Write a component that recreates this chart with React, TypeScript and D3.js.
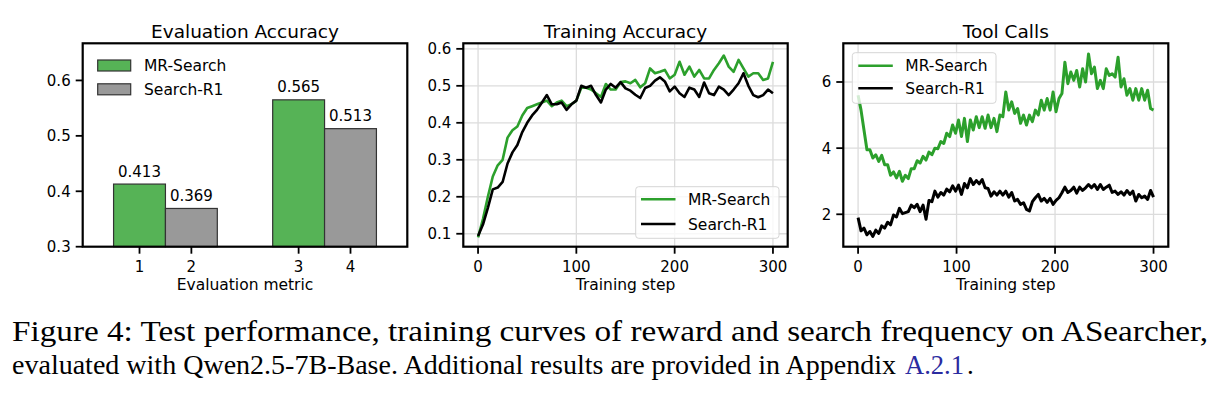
import * as d3 from "d3";

// ---- data ----
const evalMetricLabels = ["1", "2", "3", "4"];
const evalGroups = [0, 1];
const mrSearchEval = [0.413, 0.565];
const searchR1Eval = [0.369, 0.513];

const accSteps = d3.range(0, 301, 5);
const mrSearchAcc = [
  0.09, 0.14, 0.2, 0.255, 0.285, 0.3, 0.36, 0.38, 0.39, 0.42, 0.44, 0.445,
  0.45, 0.455, 0.46, 0.445, 0.455, 0.46, 0.445, 0.45, 0.46, 0.495, 0.495,
  0.49, 0.48, 0.47, 0.505, 0.49, 0.49, 0.51, 0.512, 0.507, 0.516, 0.496,
  0.507, 0.547, 0.534, 0.538, 0.543, 0.52, 0.53, 0.565, 0.53, 0.552, 0.525,
  0.543, 0.52, 0.52, 0.543, 0.561, 0.582, 0.552, 0.538, 0.57, 0.547, 0.525,
  0.534, 0.534, 0.516, 0.52, 0.565,
];
const searchR1Acc = [
  0.094, 0.125, 0.17, 0.22, 0.225, 0.24, 0.29, 0.32, 0.34, 0.375, 0.4, 0.42,
  0.435, 0.455, 0.475, 0.45, 0.45, 0.455, 0.435, 0.45, 0.46, 0.5, 0.495, 0.5,
  0.475, 0.455, 0.49, 0.505, 0.495, 0.51, 0.493, 0.487, 0.476, 0.467, 0.494,
  0.5, 0.514, 0.523, 0.512, 0.485, 0.498, 0.48, 0.47, 0.495, 0.49, 0.47,
  0.509, 0.48, 0.475, 0.498, 0.49, 0.475, 0.49, 0.507, 0.534, 0.5, 0.475,
  0.469, 0.475, 0.49, 0.48,
];

const toolSteps = d3.range(0, 301, 3);
const mrSearchTool = [
  5.6, 5.15, 4.55, 3.95, 3.95, 3.7, 3.8, 3.6, 3.78, 3.5, 3.5, 3.18, 3.28, 3.1,
  3.3, 3.0, 3.18, 3.08, 3.38, 3.38, 3.62, 3.55, 3.75, 3.64, 3.88, 3.8, 4.0,
  3.98, 4.2, 4.14, 4.45, 4.35, 4.7, 4.45, 4.85, 4.35, 4.9, 4.2, 4.85, 4.55,
  4.95, 4.62, 4.95, 4.6, 5.0, 4.62, 4.9, 4.5, 5.0, 4.95, 5.7, 5.15, 5.4, 5.05,
  5.2, 4.75, 5.0, 4.7, 5.0, 4.8, 5.15, 5.0, 5.45, 5.15, 5.5, 5.15, 5.7, 5.1,
  5.5, 5.65, 6.6, 5.95, 6.3, 6.05, 6.35, 5.85, 6.4, 6.0, 6.85, 6.25, 6.45,
  5.8, 6.05, 5.8, 6.4, 6.2, 6.25, 6.15, 6.75, 5.85, 6.1, 5.6, 5.8, 5.45, 5.8,
  5.45, 5.8, 5.45, 5.75, 5.2, 5.15,
];
const searchR1Tool = [
  1.9, 1.5, 1.58, 1.38, 1.48, 1.33, 1.52, 1.42, 1.65, 1.58, 1.76, 1.68, 1.98,
  1.92, 2.18, 2.02, 2.05, 2.08, 2.28, 2.2, 2.3, 2.08, 2.28, 1.85, 2.42, 2.38,
  2.7, 2.52, 2.66, 2.58, 2.76, 2.68, 2.86, 2.7, 2.88, 2.6, 2.93, 2.8, 3.08,
  2.9, 3.02, 2.92, 3.05, 2.8, 2.78, 2.55, 2.68, 2.58, 2.7, 2.58, 2.7, 2.52,
  2.66, 2.4, 2.45, 2.3, 2.35, 2.15, 2.1, 2.38, 2.5, 2.6, 2.4, 2.48, 2.36,
  2.48, 2.3, 2.42, 2.5, 2.65, 2.82, 2.66, 2.72, 2.82, 2.64, 2.82, 2.72, 2.8,
  2.9, 2.8, 2.9, 2.75, 2.9, 2.75, 2.82, 2.88, 2.66, 2.7, 2.6, 2.68, 2.58,
  2.72, 2.6, 2.7, 2.4, 2.6, 2.5, 2.55, 2.45, 2.72, 2.52,
];

const accTicks = [0.1, 0.2, 0.3, 0.4, 0.5, 0.6];
const toolTicks = [2, 4, 6];
const evalTicks = [0.3, 0.4, 0.5, 0.6];
const stepTicks = [0, 100, 200, 300];
const seriesNames = ["MR-Search", "Search-R1"];

// ---- styling ----
const FONT = "DejaVu Sans, sans-serif";
const SERIF = "Liberation Serif, serif";
const GREEN = "#2ca02c";
const TOP = 43.3;
const BOTTOM = 246.7;
const TICK = 7;

type Scale = d3.ScaleLinear<number, number>;

const Frame = ({ x, y }: { x: Scale; y: Scale }) => {
  const [x0, x1] = x.range();
  const [y0, y1] = y.range();
  return (
    <rect
      x={x0}
      y={y1}
      width={x1 - x0}
      height={y0 - y1}
      fill="none"
      stroke="#000"
      strokeWidth={2.2}
    />
  );
};

const YAxis = ({ y, x0, ticks, fmt }: { y: Scale; x0: number; ticks: number[]; fmt: (v: number) => string }) => (
  <g>
    {ticks.map((t) => (
      <g key={t}>
        <line x1={x0 - TICK} x2={x0} y1={y(t)} y2={y(t)} stroke="#000" strokeWidth={1.8} />
        <text x={x0 - TICK - 5} y={y(t)} dy="0.36em" textAnchor="end" fontSize={15} fontFamily={FONT}>
          {fmt(t)}
        </text>
      </g>
    ))}
  </g>
);

const XAxis = ({ x, pos, labels, title }: { x: Scale; pos: number[]; labels: string[]; title: string }) => {
  const [a, b] = x.range();
  return (
    <g>
      {pos.map((p, i) => (
        <g key={i}>
          <line x1={x(p)} x2={x(p)} y1={BOTTOM} y2={BOTTOM + TICK} stroke="#000" strokeWidth={1.8} />
          <text x={x(p)} y={271.5} textAnchor="middle" fontSize={15} fontFamily={FONT}>
            {labels[i]}
          </text>
        </g>
      ))}
      <text x={(a + b) / 2} y={290} textAnchor="middle" fontSize={15.5} fontFamily={FONT}>
        {title}
      </text>
    </g>
  );
};

const Title = ({ x, text }: { x: Scale; text: string }) => {
  const [a, b] = x.range();
  return (
    <text x={(a + b) / 2} y={38} textAnchor="middle" fontSize={18.5} fontFamily={FONT}>
      {text}
    </text>
  );
};

const Grid = ({ x, y, xt, yt }: { x: Scale; y: Scale; xt: number[]; yt: number[] }) => {
  const [x0, x1] = x.range();
  return (
    <g stroke="#dcdcdc" strokeWidth={1.3}>
      {xt.map((t) => (
        <line key={"x" + t} x1={x(t)} x2={x(t)} y1={TOP} y2={BOTTOM} />
      ))}
      {yt.map((t) => (
        <line key={"y" + t} x1={x0} x2={x1} y1={y(t)} y2={y(t)} />
      ))}
    </g>
  );
};

const LineLegend = ({ bx, by, bw, bh, lx, ly }: { bx: number; by: number; bw: number; bh: number; lx: number; ly: number[] }) => (
  <g>
    <rect x={bx} y={by} width={bw} height={bh} rx={3} fill="#fff" fillOpacity={0.8} stroke="#d6d6d6" strokeWidth={1} />
    {seriesNames.map((n, i) => (
      <g key={n}>
        <line x1={lx} x2={lx + 34.5} y1={ly[i]} y2={ly[i]} stroke={i === 0 ? GREEN : "#000"} strokeWidth={2.6} />
        <text x={lx + 47} y={ly[i]} dy="0.36em" fontSize={15.5} fontFamily={FONT}>
          {n}
        </text>
      </g>
    ))}
  </g>
);

export default function App() {
  // panel 1: evaluation accuracy bars
  const xEval = d3.scaleLinear().domain([-0.52, 1.52]).range([82.7, 407.3]);
  const yEval = d3.scaleLinear().domain([0.3, 0.667]).range([BOTTOM, TOP]);
  const barW = 0.326;
  const evalTickPos = evalGroups.flatMap((g) => [g - barW / 2, g + barW / 2]);

  // panel 2: training accuracy
  const xAcc = d3.scaleLinear().domain([-15, 315]).range([463.3, 787.7]);
  const yAcc = d3.scaleLinear().domain([0.065, 0.615]).range([BOTTOM, TOP]);
  const accLine = (vals: number[]) =>
    d3.line<number>().x((_, i) => xAcc(accSteps[i])).y((v) => yAcc(v))(vals) || "";

  // panel 3: tool calls
  const xTool = d3.scaleLinear().domain([-15, 315]).range([843.3, 1168.3]);
  const yTool = d3.scaleLinear().domain([1.02, 7.17]).range([BOTTOM, TOP]);
  const toolLine = (vals: number[]) =>
    d3.line<number>().x((_, i) => xTool(toolSteps[i])).y((v) => yTool(v))(vals) || "";

  const bars = [
    { vals: mrSearchEval, off: -barW, fill: "#56b356" },
    { vals: searchR1Eval, off: 0, fill: "#999999" },
  ];

  return (
    <svg
      width={1222}
      height={394}
      style={{ position: "absolute", left: 0, top: 0, background: "#fff" }}
    >
      <rect width={1222} height={394} fill="#fff" />

      {/* Evaluation Accuracy */}
      <Title x={xEval} text="Evaluation Accuracy" />
      {bars.map((s, si) =>
        s.vals.map((v, i) => (
          <g key={`${si}-${i}`}>
            <rect
              x={xEval(evalGroups[i] + s.off)}
              y={yEval(v)}
              width={xEval(barW) - xEval(0)}
              height={yEval(0.3) - yEval(v)}
              fill={s.fill}
              stroke="#333"
              strokeWidth={1.2}
            />
            <text
              x={xEval(evalGroups[i] + s.off + barW / 2)}
              y={yEval(v) - 7.5}
              textAnchor="middle"
              fontSize={15}
              fontFamily={FONT}
            >
              {v.toFixed(3)}
            </text>
          </g>
        ))
      )}
      <g>
        {seriesNames.map((n, i) => (
          <g key={n}>
            <rect
              x={97.7}
              y={60 + i * 23.8}
              width={33}
              height={11}
              fill={bars[i].fill}
              stroke="#333"
              strokeWidth={1.2}
            />
            <text x={144} y={65.5 + i * 23.8} dy="0.36em" fontSize={15.5} fontFamily={FONT}>
              {n}
            </text>
          </g>
        ))}
      </g>
      <YAxis y={yEval} x0={82.7} ticks={evalTicks} fmt={(v) => v.toFixed(1)} />
      <XAxis x={xEval} pos={evalTickPos} labels={evalMetricLabels} title="Evaluation metric" />
      <Frame x={xEval} y={yEval} />

      {/* Training Accuracy */}
      <Title x={xAcc} text="Training Accuracy" />
      <Grid x={xAcc} y={yAcc} xt={stepTicks} yt={accTicks} />
      <path d={accLine(mrSearchAcc)} fill="none" stroke={GREEN} strokeWidth={2.6} strokeLinejoin="round" />
      <path d={accLine(searchR1Acc)} fill="none" stroke="#000" strokeWidth={2.6} strokeLinejoin="round" />
      <LineLegend bx={635.7} by={186.7} bw={143.3} bh={51.6} lx={641} ly={[199.3, 224]} />
      <YAxis y={yAcc} x0={463.3} ticks={accTicks} fmt={(v) => v.toFixed(1)} />
      <XAxis x={xAcc} pos={stepTicks} labels={stepTicks.map(String)} title="Training step" />
      <Frame x={xAcc} y={yAcc} />

      {/* Tool Calls */}
      <Title x={xTool} text="Tool Calls" />
      <Grid x={xTool} y={yTool} xt={stepTicks} yt={toolTicks} />
      <path d={toolLine(mrSearchTool)} fill="none" stroke={GREEN} strokeWidth={3} strokeLinejoin="round" />
      <path d={toolLine(searchR1Tool)} fill="none" stroke="#000" strokeWidth={3} strokeLinejoin="round" />
      <LineLegend bx={852.3} by={52.7} bw={143.7} bh={50.6} lx={858.3} ly={[65.7, 88.3]} />
      <YAxis y={yTool} x0={843.3} ticks={toolTicks} fmt={(v) => String(v)} />
      <XAxis x={xTool} pos={stepTicks} labels={stepTicks.map(String)} title="Training step" />
      <Frame x={xTool} y={yTool} />

      {/* caption */}
      <text x={12} y={341} fontSize={30} fontFamily={SERIF} textLength={1196} lengthAdjust="spacingAndGlyphs">
        Figure 4: Test performance, training curves of reward and search frequency on ASearcher,
      </text>
      <text x={12} y={374} fontSize={27} fontFamily={SERIF} textLength={884} lengthAdjust="spacingAndGlyphs">
        evaluated with Qwen2.5-7B-Base. Additional results are provided in Appendix
      </text>
      <text x={905} y={374} fontSize={27} fontFamily={SERIF} fill="#2b2ba0" textLength={59} lengthAdjust="spacingAndGlyphs">
        A.2.1
      </text>
      <text x={967} y={374} fontSize={27} fontFamily={SERIF}>
        .
      </text>
    </svg>
  );
}
